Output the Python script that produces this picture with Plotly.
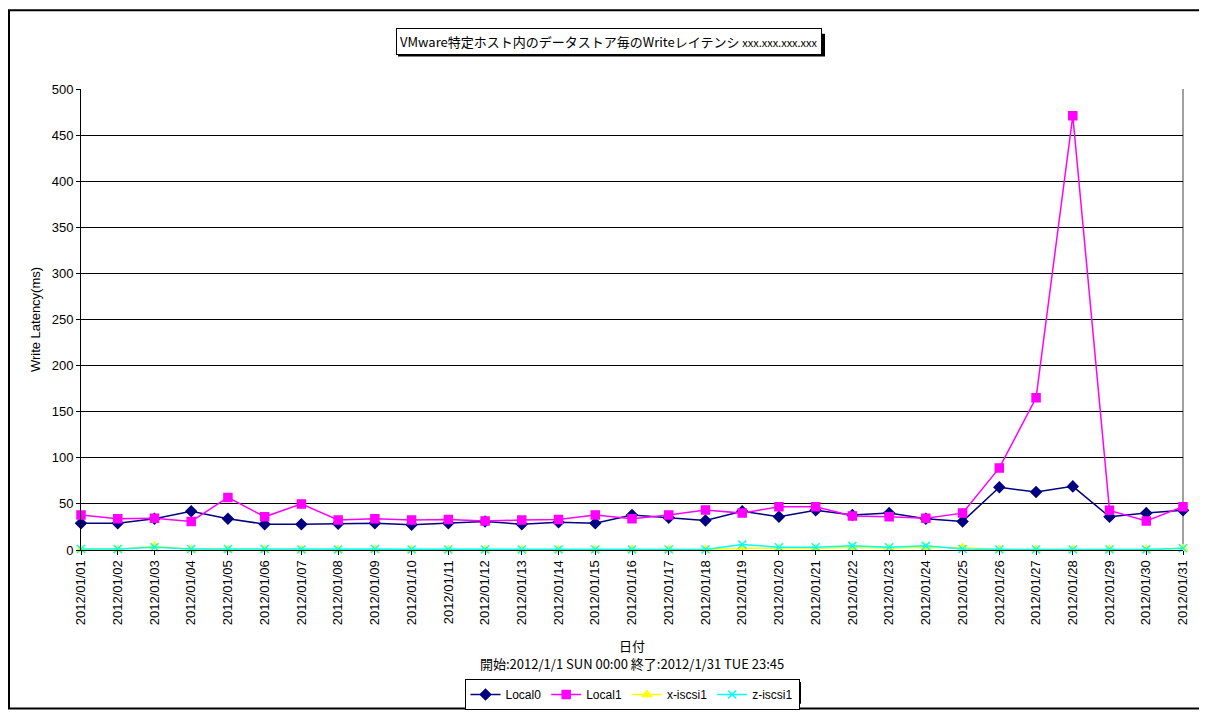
import plotly.graph_objects as go

# 日付 (x軸カテゴリ)
dates = ["2012/01/%02d" % d for d in range(1, 32)]

local0 = [29, 29, 34, 42, 34, 28, 28, 28.5, 29, 27.5, 29, 31, 28, 30, 29,
          38, 35, 32, 42, 36, 43, 38, 40, 34, 31, 68, 63, 69, 36, 40, 43]
local1 = [38, 34, 34.5, 31, 57, 36, 50, 32.5, 34, 32.5, 33, 31.5, 32.5, 33, 38,
          34, 38, 43.5, 40, 47, 47, 37, 36, 34.5, 40, 89, 165, 471, 43, 31.5, 47]
x_iscsi1 = [0.5, 0.5, 4, 0.5, 0.5, 0.5, 0.3, 0.3, 0.5, 0.3, 0.3, 0.3, 0.3, 0.3, 0.3,
            0.5, 0.5, 0.5, 2, 1.5, 1.5, 3, 2, 3, 2.5, 0.5, 0.5, 0.5, 0.5, 0.5, 1.5]
z_iscsi1 = [1, 1, 3, 1, 1, 1, 0.5, 0.5, 1, 0.5, 0.5, 0.5, 0.5, 0.5, 0.5,
            0.5, 0.5, 0.5, 6, 3, 3, 4.5, 3, 4.5, 1, 0.5, 0.5, 0.5, 0.5, 0.5, 2]

FONT = "Liberation Sans, Noto Sans CJK JP, sans-serif"
JP = "Noto Sans CJK JP, sans-serif"

series = [
    ("Local0", local0, "#000080", "diamond", 8),
    ("Local1", local1, "#FF00FF", "square", 8),
    ("x-iscsi1", x_iscsi1, "#FFFF00", "triangle-up", 8),
    ("z-iscsi1", z_iscsi1, "#00FFFF", "x-thin-open", 8),
]

traces = []
for name, vals, col, sym, sz in series:
    traces.append(go.Scatter(
        x=dates, y=vals, name=name, mode="lines+markers",
        line=dict(color=col, width=1.5),
        marker=dict(symbol=sym, size=sz, color=col, line=dict(color=col, width=1.5)),
        cliponaxis=False,
    ))

# ページ余白(8px)を差し引いた座標系
OFF = 8
W, H = 1207 - OFF, 722 - OFF
L, R, T, B = 81 - OFF, 1183 - OFF, 89 - OFF, 557 - OFF
def px(x):
    return (x - OFF - L) / (R - L)
def py(y):
    return (B - (y - OFF)) / (B - T)

layout = go.Layout(
    width=W, height=H,
    margin=dict(l=L, r=W - R, t=T, b=H - B),
    paper_bgcolor="white", plot_bgcolor="white",
    font=dict(family=FONT, size=12, color="black"),
    showlegend=True,
    legend=dict(orientation="h", x=0.5, xanchor="center", y=py(688), yanchor="top",
                bordercolor="black", borderwidth=1, bgcolor="white",
                font=dict(size=12, family=FONT), itemwidth=30, tracegroupgap=0),
    xaxis=dict(type="category", range=[0, 30], showgrid=False, showline=True,
               linecolor="black", linewidth=1, tickangle=-90, ticks="outside",
               ticklen=4, tickcolor="black", tickfont=dict(size=13), zeroline=False),
    yaxis=dict(range=[0, 500], dtick=50, showgrid=True, gridcolor="black", gridwidth=1,
               showline=True, linecolor="black", linewidth=1, ticks="outside",
               ticklen=4, tickcolor="black", tickfont=dict(size=13), zeroline=False,
               title=dict(text="Write Latency(ms)", font=dict(size=13), standoff=8)),
    shapes=[
        # 外枠
        dict(type="rect", xref="paper", yref="paper", x0=px(9), x1=px(1203),
             y0=py(718), y1=py(9), line=dict(color="black", width=2), layer="below"),
        # プロットエリア右端
        dict(type="line", xref="paper", yref="paper", x0=1, x1=1, y0=0, y1=1,
             line=dict(color="#808080", width=1.5), layer="below"),
        # タイトル影
        dict(type="rect", xref="paper", yref="paper", x0=px(398), x1=px(825),
             y0=py(56), y1=py(33), fillcolor="black", line=dict(width=0)),
        # 凡例影
        dict(type="rect", xref="paper", yref="paper", x0=px(466), x1=px(801),
             y0=py(713), y1=py(691), fillcolor="black", line=dict(width=0)),
    ],
    annotations=[
        dict(xref="paper", yref="paper", x=px(609), y=py(41), xanchor="center",
             yanchor="middle", showarrow=False, borderwidth=1, borderpad=3,
             text="VMware特定ホスト内のデータストア毎のWriteレイテンシ <span style='font-size:11px'>xxx.xxx.xxx.xxx</span>",
             font=dict(size=13, family=JP, color="black"),
             bgcolor="white", bordercolor="black"),
        dict(xref="paper", yref="paper", x=0.5, y=py(654), xanchor="center", yanchor="middle",
             text="日付", showarrow=False, font=dict(size=13, family=JP)),
        dict(xref="paper", yref="paper", x=0.5, y=py(672), xanchor="center", yanchor="middle",
             text="開始:2012/1/1 SUN 00:00 終了:2012/1/31 TUE 23:45", showarrow=False,
             font=dict(size=13, family=JP)),
    ],
)

fig = go.Figure(data=traces, layout=layout)
fig.write_html("out.html")
